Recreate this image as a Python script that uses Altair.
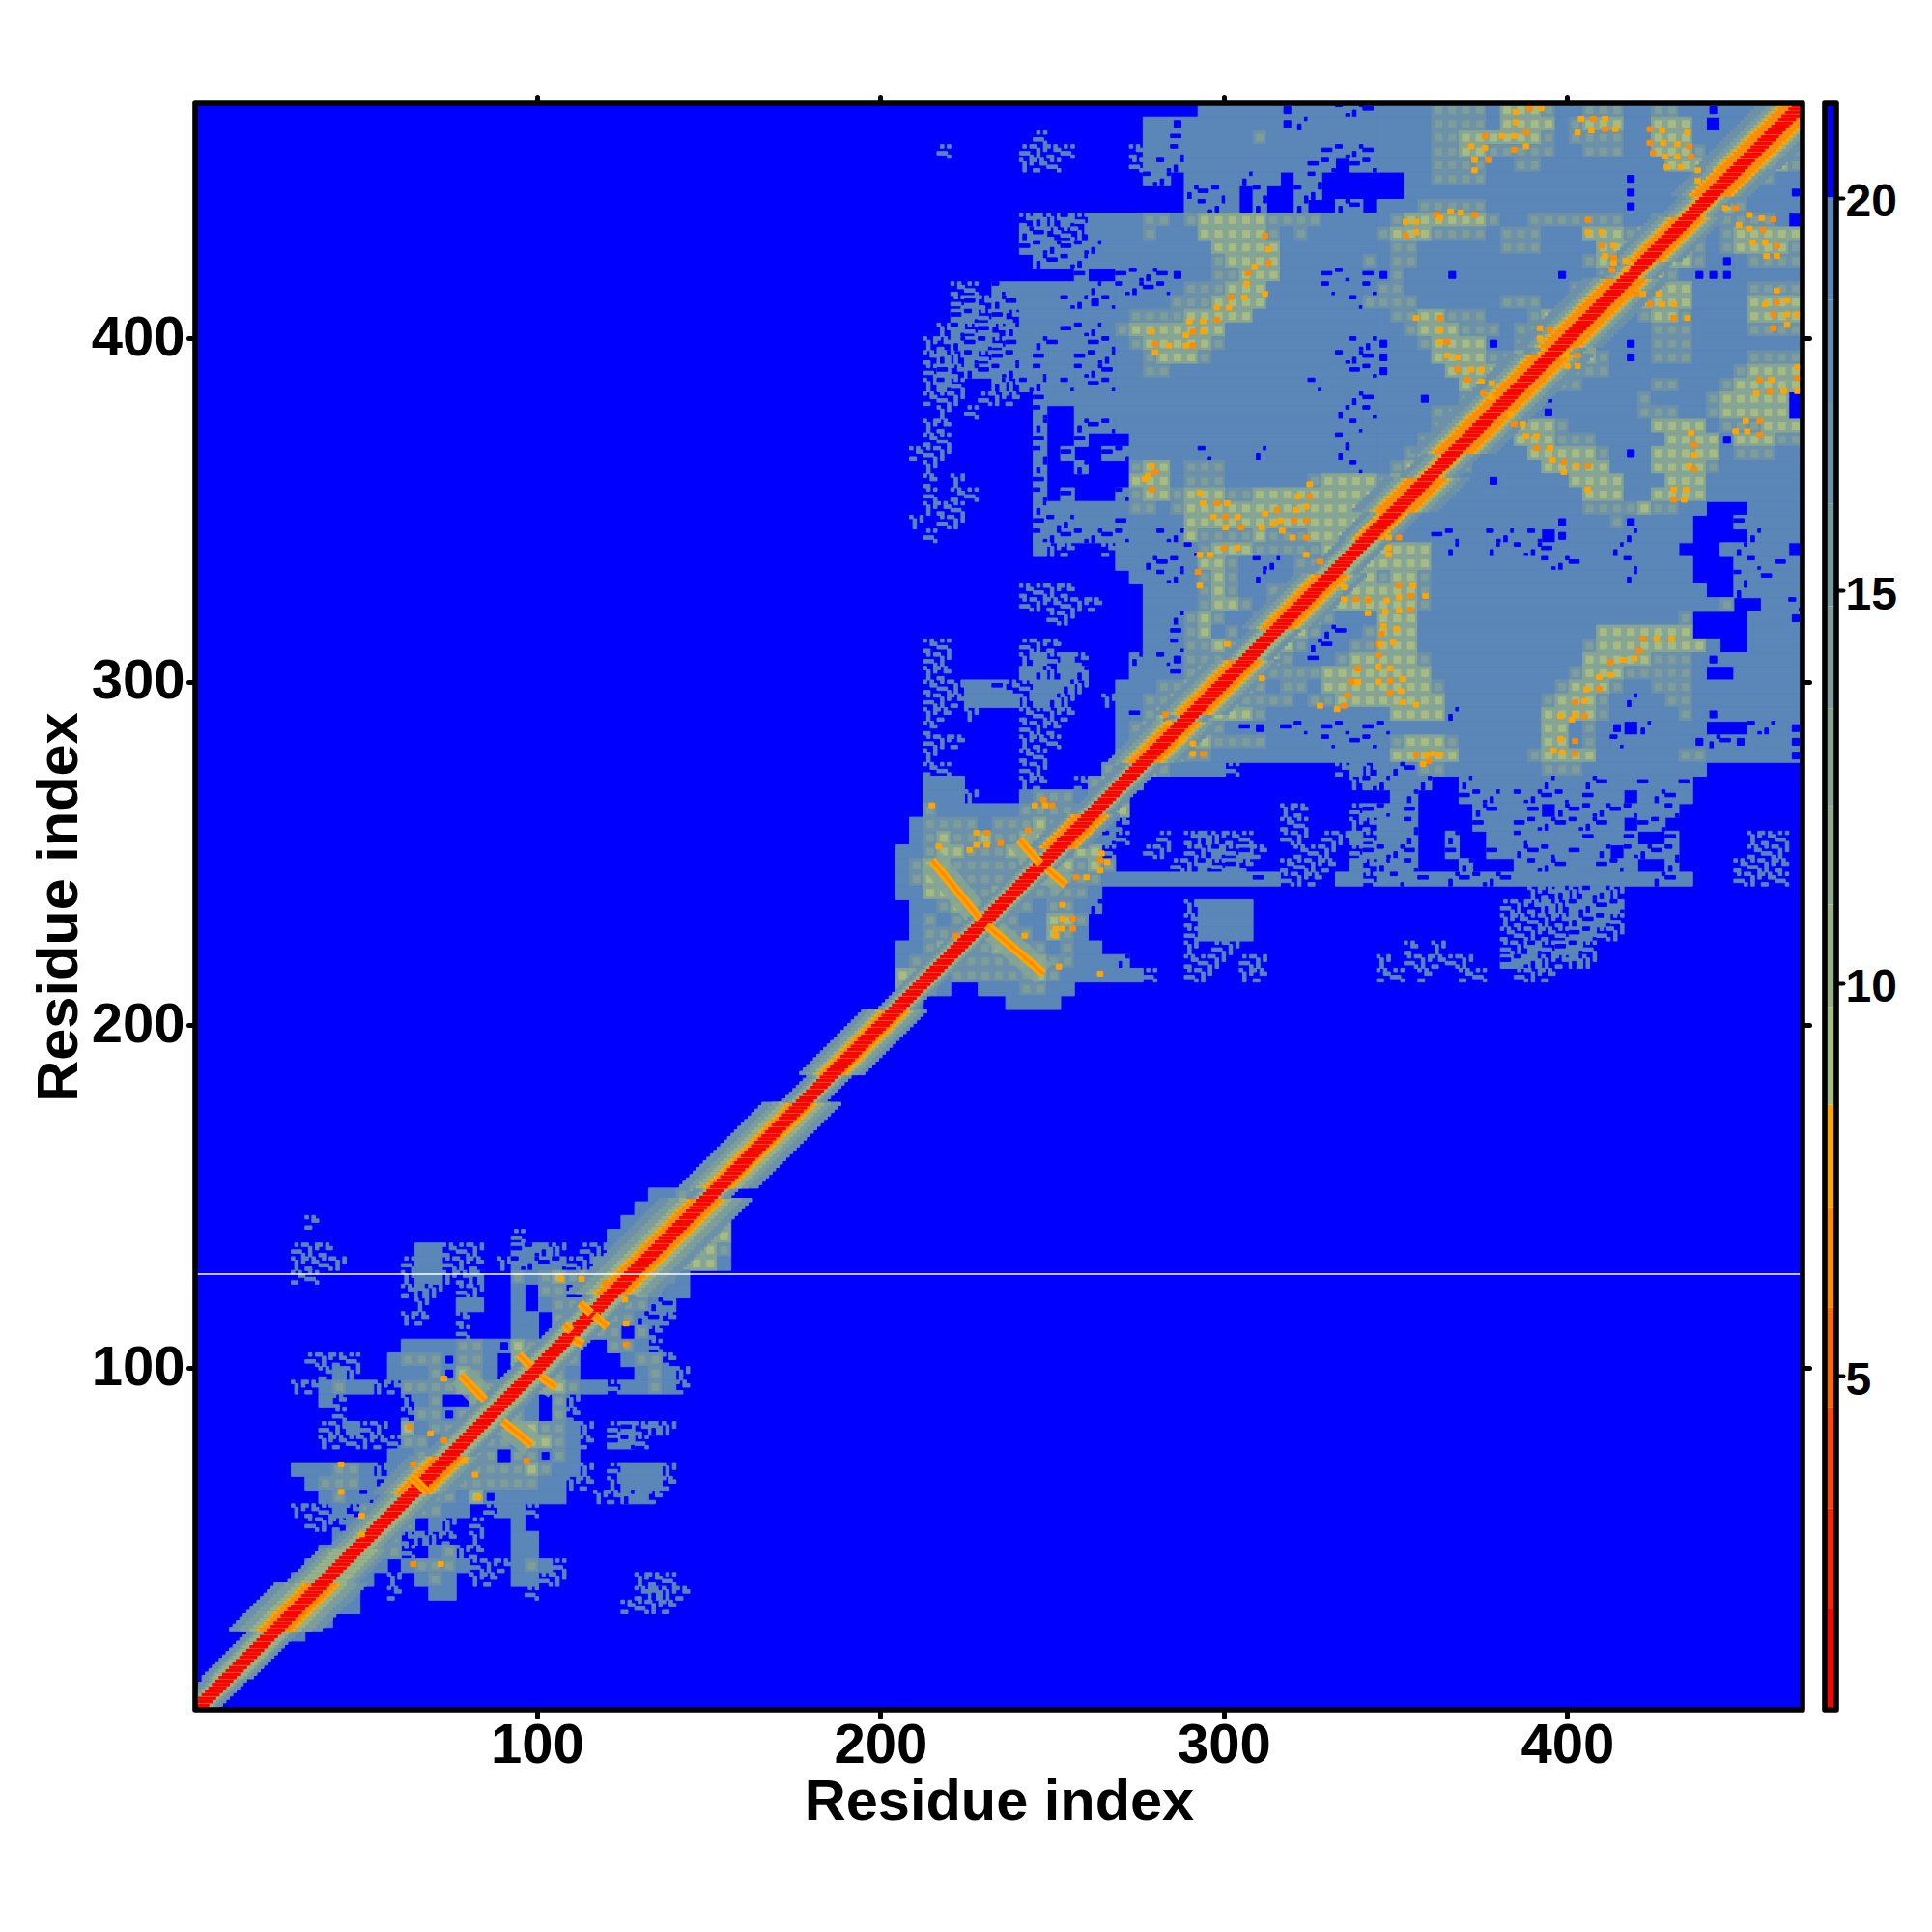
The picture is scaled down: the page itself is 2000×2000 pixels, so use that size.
import altair as alt
import pandas as pd

EDGES = [2.03, 3.31, 4.59, 5.87, 7.15, 8.45, 9.7, 11.0, 12.25, 13.5, 14.8, 16.1, 17.4, 18.7, 20.0]
COLORS = ["#FF0000", "#FF2400", "#FF4500", "#FF6800", "#FF8C00", "#FFA500", "#A6BC82", "#98B286", "#8FAB8D",
          "#86A594", "#7D9E9B", "#7498A2", "#6C91A9", "#638CB0", "#5A86B8", "#0000FF"]
BAR_LOW = [0.75, 2.03, 3.31, 4.59, 5.87, 7.15, 8.45, 9.7, 11.0, 12.25, 13.5, 14.8, 16.1, 17.4, 18.7, 20.0]
BAR_HIGH = [2.03, 3.31, 4.59, 5.87, 7.15, 8.45, 9.7, 11.0, 12.25, 13.5, 14.8, 16.1, 17.4, 18.7, 20.0, 21.2]
TICKS = [100, 200, 300, 400]
BAR_TICKS = [5, 10, 15, 20]
LINE_Y = 127.4

# distance read for each map letter
LEVEL = {"s": 19.3, "g": 16.5, "l": 13.0}
DOT_L = 9.0
DOT_G = 14.0
BLUE = 21.0
STIPPLES_X = [[(0, 1), (1, 1), (2, 1), (1, 3), (3, 0), (3, 3)], [(1, 0), (1, 1), (1, 2), (3, 3), (3, 2), (0, 3)], [(0, 0), (1, 0), (2, 2), (3, 2), (2, 3), (0, 3)]]
STIPPLES_Y = [[(1, 0), (1, 1), (3, 3)], [(0, 2), (1, 2), (2, 2)], [(3, 0), (0, 3), (1, 3)]]

# upper-right block, 4 residues per letter, rows run downward from 468.5
LEFT = [
 "."*22+"ssssssbsssyyy",
 "."*18+"ssbsssssssbysssss",
 "."*10+"x"+"."*7+"ssysssssgssssssss",
 "...x.....xxxx....x"+"ssyssssssssssyyyy",
 ".........xxx.....x"+"syysssssssssyy.yy",
 "."*18+"yy.ssssyss.sy....",
 "."*18+"...yyys.y..yy....",
 "."*18+"...syys.y..y..yy.",
 "."*9+"xyxyx"+"ssss"+"ggsg"+"lllll"+"g"+"gggssss",
 "."*9+"yyxxx"+"ssss"+"gsss"+"lllll"+"g"+"sgsssss",
 "."*9+"yyyyy"+"ysss"+"ssss"+"s"+"lllll"+"sssssss",
 "."*10+"yyyy"+"sssssssss"+"g"+"llll"+"ssssss"+"g",
 "."*13+"y"+".."+"yyyy"+"b"+"ss"+"gg"+"lll"+"sss"+"yy"+"sy",
 "....xx.y"+"ssssss"+"y"+"s"+"yyyy"+"s"+"ggg"+"lll"+"ssss"+"y"+"ss"+"y",
 "....xyxyy"+"sss"+"yy"+"b"+"ys"+"sss"+"g"+"gg"+"llll"+"ssssss"+"yg",
 "....yyxyx"+"ssssssss"+"gggg"+"lllll"+"sssssssss",
 "...xyxyxy"+"ss"+"syyy"+"sg"+"lllllll"+"sssssssssss",
 ".."+"xxyyyxy"+"s"+"yy"+"s"+"sy"+"y"+"s"+"g"+"lllll"+"g"+"sssssssss"+"yy",
 ".."+"xyxyxyy"+"s"+"y"+"ss"+"yy"+"y"+"ss"+"glll"+"g"+"sssssssss"+"y"+"yy",
 ".."+"xyxyyyy"+"s"+"y"+"ss"+"yy"+"y"+"ss"+"gg"+"sssssssssssss"+"yy",
 ".."+"xyx..yx"+"yy"+"sys"+"yy"+"ssssssssssssssysssss",
 ".."+"xxx.xxx."+"y"+"ssssssssssssssssssssss"+"yy",
 "...x.x...."+"y.."+"s"*19+"ysy",
 "..xx......"+"y..y"+"yys"+"s"*15+"sys",
 "..xx......"+"y..y"+"...s"+"s"*14+"yss",
 ".xxx......"+"y.y..yy"+"sssss"+"y"+"sss"+"y"+"sssss"+"y"+"ss",
 "..x......."+"y..y..."+"gll"+"sggg"+"s"*9+"ys",
 "..x.x....."+"y......"+"lll"+"sggg"+"ssssss"+"gll"+"ll",
 "..x.xx...."+"y.y...y"+"g"+"ll"+"g"+"lll"+"gg"+"llllll"+"lll",
 "..xxx....."+"yssssss"+"gg"+"s"+"g"+"llll"+"llll"+"llllll",
 ".x.xx....."+"yyysssy"+"ssss"+"l"*14,
 "..x......."+"yyyyyyy"+"ss"+"yy"+"lgggglggg"+"lllll",
 "."*10+"sxx"+"..x"+"sssss"+"y"+"g"+"lll"+"g"+"gg"+"gglll"+"ll",
 "."*16+"ss"+"yyy"+"s"+"ll"+"g"+"s"+"yy"+"s"+"gg"+"llll",
 "."*17+"s"+"sy"+"y"+"s"+"g"+"l"+"g"+"s"+"y"+"s"+"sg"+"llll"+"l",
 "."*9+"xxxx"+"."*5+"ssss"+"gl"+"g"+"ss"+"gg"+"l"+"llll"+"l",
 "."*9+"xxxxxx"+"..."+"ssss"+"gll"+"gs"+"g"+"ll"+"lll"+"ll",
 "."*11+"xx"+"."*5+"ssyglgssg"+"llll"+"g"+"sss",
 "."*18+"ssygl"+"sgs"+"llll"+"g"+"yy"+"sg",
 "..xx....."+"xxx"+"......"+"ssygglg"+"llll"+"g"+"yy"+"s"+"gg",
 "..xx....."+"xsxsx"+"..."+"ysyb"+"ggg"+"llll"+"g"+"sys"+"gll",
 "..xx....."+"syxsy"+"..."+"sss"+"y"+"gl"+"llll"+"gggg"+"llll",
 ".."+"xxx"+"ssyx"+"xssyx"+".."+"sss"+"gg"+"lllll"+"g"+"sggs"+"lll"+"l",
 ".."+"xxx"+"ssss"+"xsyx"+"..x"+"ss"+"gg"+"lllll"+"g"+"ggg"+"sgg"+"lll",
 "..xx.x..."+"xxxx"+"..."+"syg"+"ll"+"lll"+"ll"+"g"+"ssssssss",
 "..x......"+"xxx"+"...."+"sg"+"llll"+"ggs"+"ybsy"+"ysyys"+"y",
 "..xxx...."+"xxx"+"...."+"sg"+"llll"+"l"+"g"+"ggg"+"ssssysyy",
 "..x......"+"xx"+"....."+"gg"+"ll"+"l"+"gg"+"ss"+"ss"+"ssssssss",
 "..xx....."+"xx"+"...."+"g"+"lll"+"g"+"ssss"+"x"+"."*7+"xsx",
 "..sss....xx..x"+"gllg"+"."*15+"xy",
 "..sss"+"x..."+"s"+"ggg"+"s"+"glg"+"."*18,
 ".."+"g"+"ssssss"+"gggg"+"g"+"lll"+"."*11+"xx"+"..."+"xy",
 ".s"+"ggg"+"g"+"s"+"ggg"+"l"+"g"+"lll"+"s"+"x"+"."*11+"xx"+"..."+"xx",
 ".sglgglggllllgsyx"+"..x.xyxxx..xx.xxsx",
 "ssgllgggllllgllx"+"..xx.xxyxyx..xxx.xy",
 "sgllgggggllllglg"+"....xxyxyx..xxxx.sx",
 "sgllggggglllgggss"+"ssssssss"+"s"+"y"+"s"+"xxx"+"."+"ss"+"x",
 "sslllggllgggggs."+"."*19,
 ".ssgllglggsggsy"+"."*6+"xssss"+"."*9,
 ".sgsgllggssllg."+"."*6+"xssss"+"."*9,
 ".sggglllggslgs."+"."*6+"xssss"+"."*9,
 "ssgllggllggsgss"+"."*6+"x.xx"+"."*10,
 "sgglgggggllggsss"+"y"+"."*4+"xxx."+"xx"+"."*8,
 "lllsgggggg"+"lg"+"ssssss"+"x"+".."+"xx"+".."+"xx"+"."*8,
 "llgs..sss"+"ggss"+"."*22,
 ".s......ssss"+"."*23,
]
RIGHT = [
 "ssssggggslllgssgggssggssbssssgl",
 "ssssggggsllllsglllssllls.ssglll",
 "ssssggllllllgsggggsslllsssgllll",
 "ssssggllgggggssgggsslllgsgllllg",
 "ssssggggssggssssssssslllggllllg",
 "..ssggggssssssssssbssssgllllgss",
 "..ssssssssssssssssbsssllllgsssb",
 "sssgggggssssssssssbsssllllgssss",
 "sgllllllgssgggggggssglllgggggs",
 "glllggggsgggssslllgllllgsglllll",
 "sggssssssgggsssslllllllgsgllllg",
 "sggssssssssssssglllllllgsbsggggg",
 "bgsssbsssssssbssgllllgsbbbsssss",
 "ggssssssssssssgllllllllssssgggg",
 "gggssssssgggssgllllllllssssllll",
 "sggllgggsssgllllllsgllgssssllll",
 "ssglllgggsgglllllsssgggssssgggg",
 "bssgllllbsglllllssbsgggssssssss",
 "bsssllllggllllllgsbsgggssssgggg",
 "bsssslllllllllgggsssssssssgllll",
 "ssssssllllllgggsssssggsssglllll",
 "sssbssglllgsbssssssgssssglllll",
 "ssssggllllgsbssssssgggssglllll",
 "ssssglllgllllgssssssllllsggglll",
 "sssglllgsslllgggsssssllllblllgg",
 "ssglllgsssslllllgsbslllllsgggss",
 "sgllllgssssslllllsssllllgssssss",
 "glllgsssbsssssllllssslllsssssss",
 "lllggsssssssssslllssllllsssssss",
 "llgssssssssssssgggglggss...ssss",
 "lgsssssssssssbsssgbssss...yssss",
 "gsssyyssyysy.bssssyssss....ysss",
 "llllsyssysyyyssssyssss...sysss",
 "llllssssssssyyysssyssss...sysys",
 "gllgssssssssssssssyssss...ysyss",
 "lllgssssssssssssssssssss..yssss",
 "lllgsssssssssssssssssssssg..ssy",
 "lllsssssssssssssssssssg....sssb",
 "lllssssssssssssslllllll....ssss",
 "lllssssssssssssglllllllls..sssss",
 "lllgssssssssssslllllgggsbssssss",
 "llllssssssssssglllgggggs..sssss",
 "llllgssssssssglllgssgggssssssss",
 "lllllsssssssglllgsyssggssssssss",
 "sllllyssssssllllgsssssgsbssssss",
 "ysssssssssssllsgsb.yssss...yysb",
 "sglllgssssssllsgsysssssbyybsssb",
 "slllllsssssgllllssssssggssssssb",
 "syyggsssssssgggsssssssss.......",
 "yssy..ysssssyssyyssyssy........",
 ".sy...yyysyyyysyss.syys........",
 "ysy....yyssy.yyyyyyssy.........",
 "ssy....yssyyyyyyys.yy..........",
 "ssy..y..ssyssssyssy..y.."+"..."+"xxx.",
 "yyy..y..ysyyysysy.yyyy."+"..."+".xxx.",
 "ysy...y...syyyssyys..y"+"...."+"xxxx.",
 "sysysyyyyyssssssssssyys"+"..."+"xxxx.",
 "."*11+"xxyxyyx"+"."*13,
 "."*9+"xxxyxyyyy"+"."*13,
 "."*9+"xxxxxyyyx"+"."*13,
 "."*9+"xxxxxyyxx"+"."*13,
 "..x.x...."+"xxyxyyx"+"."*15,
 "x.xxxxx.."+"yyyxxyx"+"."*15,
 "xx.x..xx.."+"xxx"+"."*18,
]

# lower-left block, same letters, starting at residue 16.5 and running down from 160.5
LOWER = [
 "."*33+"sg",
 "."*32+".sg",
 "."*29+"ssglll",
 "."*28+"ssggll"+"l",
 "."*4+"x"+"."*22+"ssggllll",
 "."*19+"x"+"."*6+"ssgggllll",
 "..."+"xxx"+"......"+"ssx"+"xx"+".."+"yyy"+"x"+"."+"xx"+"s"+"gg"+"l"+"llll"+"g",
 "..."+"xxxx"+"...."+"xss"+"xxx"+"."+"x"+"yyyy"+"xx"+"gg"+"lllllll"+"s",
 "..."+"xx"+"......"+"xss"+"x"+"xy"+".."+"gsglglg"+"llll"+"g"+"s"+"...",
 "."*11+"xyx"+"."+"xx"+".."+"s"+"."+"g"+"g"+".."+"glllg"+"ss"+"...",
 "."*12+"x"+".."+"ss"+".."+"s"+"."+"sggl"+"ll"+"gg"+"yy"+"....",
 "."*11+"xx"+".."+"x"+"..."+"ss"+"."+"g"+"lll"+"gg"+"yy"+"x"+"....",
 "."*15+"x"+"..."+"ss"+"."+"gll"+"gg"+"."+"g"+"x"+"."*5,
 "."*11+"sss"+"s"+"gg"+"s"+"b"+"l"+"g"+"g"+"ll"+".."+"ggsx"+"."*5,
 "."*4+"x"+"x"+"xx"+".."+"s"+"ggg"+"b"+"gg"+"s"+"."+"ll"+"g"+"l"+"g"+"..."+"s"+"gg"+"x"+"....",
 "."*5+"xsx"+".."+"sssg"+"b"+"lg"+"s"+".."+"ll"+"g"+"s"+"...."+"sgs"+"x"+"...",
 "..."+"xx"+"sgss"+"xx"+"gggg"+"ll"+"g"+"ss"+"g"+"ll"+"g"+"ss"+"xss"+"g"+"s"+"x"+"...",
 "."*5+"s"+"x"+"...."+"x"+"s"+"g"+".."+"g"+"l"+"l"+"g"+"s"+"."+"g"+"x"+"."*11,
 "."*6+"x"+"...."+"x"+"g"+"g"+"b"+"g"+"l"+"l"+"l"+"g"+"s"+"."+"g"+"x"+"."*11,
 "."*5+"xxsxx"+"."+"l"+"s"+"gg"+"ll"+"gg"+"ll"+"gg"+"s"+"x"+"."+"xyxy"+"x"+"....",
 "."*5+"xxxxxx"+"gg"+"s"+"l"+"ll"+"g"+"g"+"s"+"l"+"l"+"g"+"s"+"x"+"."+"yy"+"x"+"."*6,
 "."*10+"ss"+"g"+"lll"+"gg"+"."+"gg"+"b"+"g"+"s"+"."*11,
 "..."+"sssggs"+"x"+"s"+"gll"+"lgg"+"gg"+"g"+"l"+"g"+"ss"+"x"+"."+"xsssx"+"....",
 "...."+"sggg"+"sb"+"s"+"gll"+"ggggggg"+"ss"+"xx"+"."+"xsssx"+"....",
 "....."+"sgs"+"yy"+"ss"+"l"+"gg"+"s"+"l"+"b"+"ssss"+"s"+".."+"xx"+"ys"+"x"+".....",
 "..."+"xxx"+"s"+"x"+"g"+"lll"+"gg"+"ss"+"."+"x"+"ss"+"x"+"."*14,
 "...."+"xxx"+"s"+"g"+"ll"+"g"+"."+"s"+"x"+"."+"x"+".."+"s"+"."*15,
 "."*6+"s"+"g"+"l"+"l"+"g"+"x"+"y"+"x"+"x"+"."+"x"+".."+"ss"+"."*14,
 "."*5+"sg"+"ll"+"gg"+"x."+"sg"+"xx"+".."+"ss"+"."*14,
 "."*4+"sglggs.sgggsxxxsgsx"+"."*12,
 "..."+"s"+"g"+"l"+"gg"+"s"+"."+"x"+"."+"sgs"+"."+"xx"+"."+"ssxx"+"."*5+"xxx"+"....",
 ".."+"s"+"g"+"ll"+"g"+"s"+".."+"x"+".."+"ss"+"....."+"x"+"."*7+"xyxx"+"....",
 ".sgllgss"+"."*19+"xxxx"+"....",
 "lllggs"+"."*29,
 "gggs"+"."*31,
]

# main diagonal: first residue, last residue, half width of orange, half width of halo
DIAG_START = [1, 10, 24, 38, 48, 56, 64, 75, 122, 150, 153, 178, 186, 205, 213, 252, 262, 277, 289, 291, 307, 316, 332, 342, 350, 360, 367, 379, 396, 398, 418, 423, 436, 442, 450]
DIAG_END = [9, 23, 37, 47, 55, 63, 74, 121, 149, 152, 177, 185, 204, 212, 251, 261, 276, 288, 290, 306, 315, 331, 341, 349, 359, 366, 378, 395, 397, 417, 422, 435, 441, 449, 468]
DIAG_ORANGE = [2, 2, 5, 2, 2, 2, 5, 2, 5, 2, 4, 2, 4, 2, 2, 5, 2, 5, 2, 5, 2, 5, 2, 4, 6, 3, 6, 6, 4, 6, 3, 5, 3, 6, 6]
DIAG_HALO = [6, 7, 13, 10, 8, 8, 11, 7, 13, 6, 11, 6, 9, 5, 5, 8, 6, 10, 6, 10, 7, 10, 7, 8, 12, 8, 12, 12, 8, 12, 8, 10, 8, 11, 12]

SPECK_X = [312,313,309,307,306.6,306,302,298,301.5,298,294,290,291,289,294,280,284,289,291,280,279,313,312,
 278,280,277,279,279,293,294,298,301,297,300.5,304,300.5,305,312,311,315.5,316.5,314.5,320.5,321,321.5,325,325,324,324,317,320,324,
 293,296,300,304,385,389,392.4,385,388,384.5,381,376,372,376,384.5,388,373,377,373,
 404,407.5,411,407,411,414,403,424,427.6,435,424,428,432,435.5,428.5,432,436,429,433,425,438,438,
 362,366,369,373,356,353,353,356,363,406,406,410,410,413.5,411,413.5,413.5,417,413,417,
 446,449,453,456.6,460,450,453,457,454,457.6,461,458,461,420,422,426.6,424,427.6,431,431,435,
 461,461,464,457.6,460,464,467,460,464,356,363,363,363,365,365,368,368,372,375,371,375,378,375.6,378,
 392,395,392,399.5,403,400,403,456,459.4,463,459,455,467,467,467,452,456,449,452.4,456,
 383.5,387,384.5,391,388,391,395,395.7,399,399,402.7,406,406,436,437,437,435.5,437,431,434.6,431,434,348,351,348,348,
 292.5,293,324,328,335,335,338.5,342,342,345,345,339,337,339,345,336,328,333,335,301,311,
 283,284,291,294,291,288,247.5,248,245,250,215,264.4,264,266,264,257,260,228,231,228,231,235,226,217,243,
 253,253,256,251,253,256,251,242,222,252,264,
 351,355,351,354.5,358.7,347.4,342,347,351,354.3,346.5,350.3,346,345.6,349.3,345,345,348.4,339,339,345,348.4,352,351.6,348.4,352,356,
 356,359,361,359.6,363,358,422,426,430.4,421,419.6,416.3,412.6,412.6,409.3,409.3,405.6,405,402.3,402.3,401.3,405,398,398,402.3,398.5,396,402.3,
 107,113,120,125.6,126,126,43,43,64,73,69,73,79,82,97,49,49,64,72,83,63]
SPECK_Y = [430,426,421,419,416,412,412,409,409,405.5,405,405,402,401,402,398.5,398,398,398,396,402,422,413,
 360,361,359,363,356,355,352,352,352,348,348,348,345,345,349,345,350,347,346,347,350,354,354,357.5,351,347,344,342,342,
 337,337,339,339,466,467,467,463,460,459,459,459,456,455.5,455,456,452,452,449,
 464,464,464,460.6,461,461,460,461,460.6,460,457,457,456.6,456,453,453,453,450,450,454,449,446,
 436,437,436.7,436,434,434,430,431,435,434.6,431,431,427,427,424,423.6,422,422.6,420,420,
 438,438,436,435,434.7,433,432,431.6,428,428,427,424,424,413,413,413,410,410,410,406,406,
 414,410.5,411,410,407,407,407,403,404,406,406,402.5,399,399,395,394.5,391,391,391,388,387.5,387,384,383,
 403,402.5,400,395,395,392,392,388,388,384.7,384.5,384,391.7,388.5,384.7,376,376,373,373,372,
 378,375,375,371.6,371.6,368,368,364.6,364,361,363,363,356,372.5,369,366,363,362,356,356,353,353,342,342,339,337,
 332,328,337,335,327.5,324,324,324,320,311,304.5,303.6,300,300,300,296,293,292,293,311,301,
 290.5,288,282,279,279,283,265.6,264,264,264,264,250,248,247.5,245,243,243,256,256,252.5,252.5,253,251,252,256.7,
 235,231,231,228,228,228,226,226,226,217,215,
 328,328,324.6,325,325,323.7,323.7,320.4,320.7,321,316.2,315.5,314,310.8,311.4,307.8,304.2,303.9,303.9,299.8,300,300.3,300.8,297.3,296.8,294,293.3,
 278.7,278.7,279,276.9,278.7,276,312.5,312.5,312.5,309,306.8,306.4,305.7,302,301.4,298,297.8,294.4,294,290.5,289,290,290,283.4,282.7,279.5,279.9,279,
 126,126,125,120,113,107,72,64,72,97,81,79,73,69,73,57,51.6,43,43,62.5,83]

# short anti-parallel strands
ARM_X1 = [215, 231, 240.5, 248.5, 77.8, 90, 94.7, 101, 112.5, 116.7, 108, 110.6, 64]
ARM_Y1 = [248, 229, 254, 245.5, 98, 84.6, 104, 97.7, 119, 115.5, 112.7, 108.5, 68]
ARM_X2 = [229, 247.5, 246.6, 254, 84.9, 98.5, 98.4, 105.5, 115.8, 120.5, 110, 113.4, 68]
ARM_Y2 = [231, 215, 247, 240.8, 90.7, 77.6, 100.5, 94.4, 116, 112, 110.8, 107, 64]

base_cells = []
top_cells = []


def add(store, x0, x1, y0, y1, d):
    store.append({"x": x0, "x2": x1, "y": y0, "y2": y1, "d": d})


def add_block(rows, left, top, first_col=0, cell=4):
    for i, row in enumerate(rows):
        hi = top - i * cell
        lo = hi - cell
        j = 0
        while j < len(row):
            c = row[j]
            k = j
            while k < len(row) and row[k] == c:
                k += 1
            x0 = left + (first_col + j) * cell
            x1 = left + (first_col + k) * cell
            if c in LEVEL:
                add(base_cells, x0, x1, lo, hi, LEVEL[c])
            if c in "yb":
                add(base_cells, x0, x1, lo, hi, LEVEL["s"])
            for m in range(j, k):
                xm = left + (first_col + m) * cell
                pick = (i + first_col + m) % 3
                if c == "x":
                    for dx, dy in STIPPLES_X[pick]:
                        add(base_cells, xm + dx, xm + dx + 1, lo + dy, lo + dy + 1, LEVEL["s"])
                elif c == "y":
                    for dx, dy in STIPPLES_Y[pick]:
                        add(base_cells, xm + dx, xm + dx + 1, lo + dy, lo + dy + 1, BLUE)
                elif c == "b":
                    add(base_cells, xm + 1, xm + 3, lo + 1, lo + 3, BLUE)
                elif c == "l":
                    add(base_cells, xm + 1, xm + 3, lo + 1, lo + 3, DOT_L)
                elif c == "g":
                    add(base_cells, xm + 1, xm + 3, lo + 1, lo + 3, DOT_G)
            j = k


add_block(LEFT, 204.5, 468.5, 0)
add_block(RIGHT, 204.5, 468.5, 35)
add_block(LOWER, 16.5, 160.5, 0)

for s, e, o, h in zip(DIAG_START, DIAG_END, DIAG_ORANGE, DIAG_HALO):
    for i in range(s, e + 1):
        bands = [(h, 17.0), (round(h * 0.75), 14.0), (round(h * 0.55), 10.3), (o, 7.8)]
        if o >= 4:
            bands.append((o - 1, 6.5))
        bands.append((2, 1.4))
        for half, d in bands:
            x0 = max(0.5, i - half - 0.5)
            x1 = min(468.5, i + half + 0.5)
            add(top_cells, x0, x1, i - 0.5, i + 0.5, d)

for n, (px, py) in enumerate(zip(SPECK_X, SPECK_Y)):
    add(top_cells, px - 0.8, px + 0.8, py - 0.7, py + 0.7, 6.5 if n % 3 == 0 else 7.8)

base_df = pd.DataFrame(base_cells)
top_df = pd.DataFrame(top_cells)
arms = pd.DataFrame({"x": ARM_X1, "x2": ARM_X2, "y": ARM_Y1, "y2": ARM_Y2})
color_scale = alt.Scale(type="threshold", domain=EDGES, range=COLORS)
sx = alt.Scale(domain=[0.5, 468.5], nice=False, zero=False)
sy_ = alt.Scale(domain=[0.5, 468.5], nice=False, zero=False)

AX = dict(values=TICKS, grid=False, domain=False, tickColor="black", tickWidth=5, tickSize=7, tickCap="round",
          labelFont="Liberation Sans", labelFontWeight="bold", labelFontSize=58, labelColor="black",
          titleFont="Liberation Sans", titleFontWeight="bold", titleFontSize=59.5, titleColor="black")


def xpos():
    return alt.X("x:Q", scale=sx, axis=None)


def ypos():
    return alt.Y("y:Q", scale=sy_, axis=None)


def heat_layer(frame_df):
    return alt.Chart(frame_df).mark_rect(strokeWidth=1, clip=True).encode(
        x=xpos(), x2="x2:Q", y=ypos(), y2="y2:Q",
        color=alt.Color("d:Q", scale=color_scale, legend=None),
        stroke=alt.Stroke("d:Q", scale=color_scale, legend=None),
    )


blue_bg = alt.Chart(pd.DataFrame({"x": [0.5], "x2": [468.5], "y": [0.5], "y2": [468.5]})).mark_rect(color="#0000FF").encode(
    x=alt.X("x:Q", scale=sx, axis=alt.Axis(title="Residue index", labelPadding=1, titlePadding=0, **AX)),
    x2="x2:Q",
    y=alt.Y("y:Q", scale=sy_, axis=alt.Axis(title="Residue index", labelPadding=4, titlePadding=3, **AX)),
    y2="y2:Q",
)
arm_halo = alt.Chart(arms).mark_rule(strokeWidth=26, color="#86A594", opacity=0.8, clip=True).encode(
    x=xpos(), x2="x2:Q", y=ypos(), y2="y2:Q")
arm_wide = alt.Chart(arms).mark_rule(strokeWidth=9, color="#FFA500", clip=True).encode(
    x=xpos(), x2="x2:Q", y=ypos(), y2="y2:Q")
arm_core = alt.Chart(arms).mark_rule(strokeWidth=3, color="#FF8C00", clip=True).encode(
    x=xpos(), x2="x2:Q", y=ypos(), y2="y2:Q")
white_line = alt.Chart(pd.DataFrame({"y": [LINE_Y], "x": [0.5], "x2": [468.5]})).mark_rule(color="white", strokeWidth=1.5).encode(
    x=xpos(), x2="x2:Q", y=ypos())
frame = alt.Chart(pd.DataFrame({"x": [0.5], "x2": [468.5], "y": [0.5], "y2": [468.5]})).mark_rect(
    fillOpacity=0, stroke="black", strokeWidth=5.6, strokeJoin="round").encode(
    x=alt.X("x:Q", scale=sx, axis=alt.Axis(orient="top", title=None, labels=False, **AX)),
    x2="x2:Q",
    y=alt.Y("y:Q", scale=sy_, axis=alt.Axis(orient="right", title=None, labels=False, **AX)),
    y2="y2:Q",
)
main = alt.layer(blue_bg, heat_layer(base_df), arm_halo, heat_layer(top_df), arm_wide, arm_core, white_line, frame).resolve_axis(
    x="independent", y="independent").properties(width=1664, height=1663)

bar_df = pd.DataFrame({"lo": BAR_LOW, "hi": BAR_HIGH, "left": [0] * 16, "right": [1] * 16})
bar_df["mid"] = (bar_df["lo"] + bar_df["hi"]) / 2
by = alt.Scale(domain=[0.75, 21.2], nice=False, zero=False)
bx = alt.Scale(domain=[0, 1], nice=False, zero=False)
bar_rect = alt.Chart(bar_df).mark_rect().encode(
    x=alt.X("left:Q", scale=bx, axis=None), x2="right:Q",
    y=alt.Y("lo:Q", scale=by, axis=alt.Axis(orient="right", values=BAR_TICKS, title=None, grid=False, domain=False,
            tickColor="black", tickWidth=4, tickSize=7, tickCap="round", labelPadding=2, labelOffset=5,
            labelFont="Liberation Sans", labelFontWeight="bold", labelFontSize=48, labelColor="black")),
    y2="hi:Q",
    color=alt.Color("mid:Q", scale=color_scale, legend=None),
)
bar_frame = alt.Chart(pd.DataFrame({"left": [0], "right": [1], "lo": [0.75], "hi": [21.2]})).mark_rect(
    fillOpacity=0, stroke="black", strokeWidth=5.6, strokeJoin="round").encode(
    x=alt.X("left:Q", scale=bx, axis=None), x2="right:Q",
    y=alt.Y("lo:Q", scale=by, axis=None), y2="hi:Q",
)
bar = alt.layer(bar_rect, bar_frame).resolve_axis(y="independent").properties(width=12, height=1663)

chart = alt.hconcat(main, bar, spacing=9).configure_view(stroke=None).configure(background="white").properties(
    padding={"left": 22, "top": 89, "right": 0, "bottom": 0})
chart.save("out.html", embed_options={"renderer": "svg", "actions": False})
